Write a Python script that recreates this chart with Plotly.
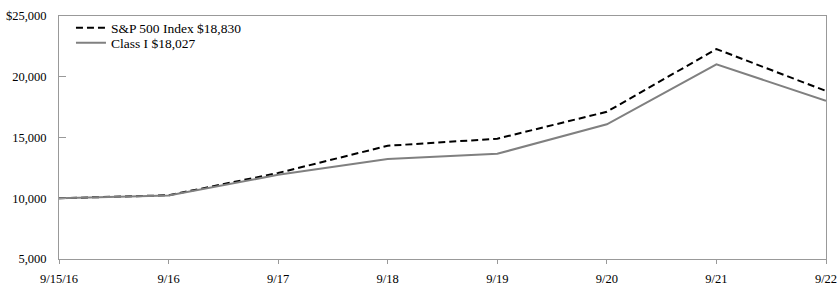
import plotly.graph_objects as go

dates = ["9/15/16", "9/16", "9/17", "9/18", "9/19", "9/20", "9/21", "9/22"]
sp500 = [10000, 10245, 12080, 14320, 14900, 17120, 22280, 18830]
class_i = [10000, 10220, 11930, 13230, 13660, 16090, 21020, 18027]
y_ticks = [5000, 10000, 15000, 20000, 25000]
y_tick_labels = ["5,000", "10,000", "15,000", "20,000", "$25,000"]

xs = list(range(len(dates)))
fam = "Liberation Serif, Times New Roman, serif"
tick_font = dict(family=fam, size=12.5, color="#000000")
leg_font = dict(family=fam, size=13.5, color="#000000")

fig = go.Figure()
fig.add_trace(go.Scatter(x=xs, y=sp500, mode="lines", name="S&P 500 Index $18,830",
                         line=dict(color="#000000", width=2, dash="7px,4px"),
                         legend="legend"))
fig.add_trace(go.Scatter(x=xs, y=class_i, mode="lines", name="Class I $18,027",
                         line=dict(color="#808080", width=2),
                         legend="legend2"))

leg_common = dict(xanchor="left", yanchor="middle", bgcolor="rgba(0,0,0,0)",
                  font=leg_font, itemwidth=30, borderwidth=0)

fig.update_layout(
    width=840, height=287,
    margin=dict(l=59, r=14, t=16, b=28, autoexpand=False),
    paper_bgcolor="white", plot_bgcolor="white",
    font=tick_font,
    showlegend=True,
    legend=dict(x=0.0156, y=0.9506, **leg_common),
    legend2=dict(x=0.0156, y=0.889, **leg_common),
    xaxis=dict(range=[0, 7], tickvals=xs, ticktext=dates, showgrid=False,
               zeroline=False, showline=True, linecolor="#999999", linewidth=1,
               mirror=True, ticks="outside", ticklen=4, tickcolor="#999999",
               tickfont=tick_font, automargin=False, ticklabelstandoff=4),
    yaxis=dict(range=[5000, 25000], tickvals=y_ticks, ticktext=y_tick_labels,
               showgrid=False, zeroline=False, showline=True, linecolor="#999999",
               linewidth=1, mirror=True, ticks="inside", ticklen=7,
               tickcolor="#999999", tickfont=tick_font, automargin=False,
               ticklabelstandoff=9),
)

fig.write_html("out.html")
